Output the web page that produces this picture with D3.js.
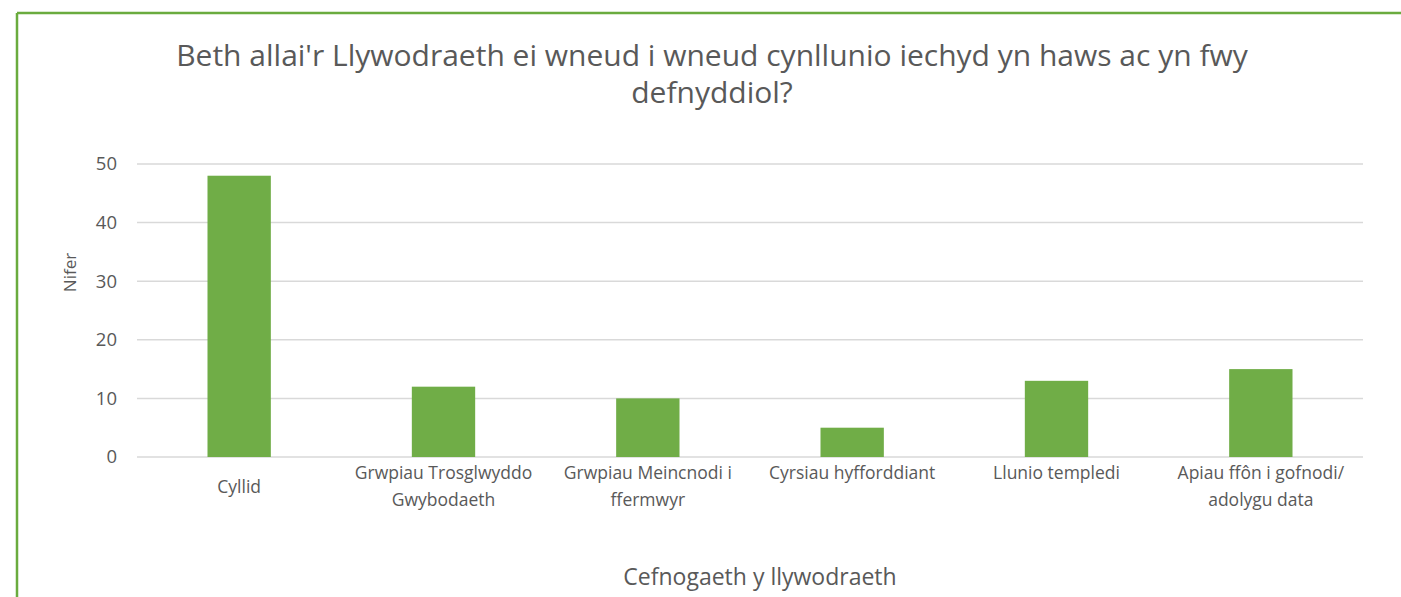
<!DOCTYPE html>
<html>
<head>
<meta charset="utf-8">
<script src="https://cdn.jsdelivr.net/npm/d3@7"></script>
<style>
  body { margin: 0; background: #fff; }
</style>
</head>
<body>
<script>

// data
let categories = [
    'Cyllid',
    'Grwpiau Trosglwyddo Gwybodaeth',
    'Grwpiau Meincnodi i ffermwyr',
    'Cyrsiau hyfforddiant',
    'Llunio templedi',
    'Apiau ffôn i gofnodi/ adolygu data'
];
let values = [48, 12, 10, 5, 13, 15];
let yTicks = [0, 10, 20, 30, 40, 50];
let titleLines = [
    "Beth allai'r Llywodraeth ei wneud i wneud cynllunio iechyd yn haws ac yn fwy",
    'defnyddiol?'
];
let xTitle = 'Cefnogaeth y llywodraeth';
let yTitle = 'Nifer';


// dimensions
let W = 1401, H = 597;
let margin = {top: 164, right: 38, bottom: 140, left: 137},
    width = W - margin.left - margin.right,
    height = H - margin.top - margin.bottom;

let font = "'Open Sans', 'Noto Sans', sans-serif";
let textColor = '#595959';
let green = '#70ad47';

let svg = d3.select('body').append('svg')
    .attr('width', W)
    .attr('height', H);

// chart border (only top and left visible)
svg.append('line')
    .attr('x1', 17).attr('y1', 13).attr('x2', W).attr('y2', 13)
    .attr('stroke', '#6aab3e').attr('stroke-width', 2.5);
svg.append('line')
    .attr('x1', 17).attr('y1', 13).attr('x2', 17).attr('y2', H)
    .attr('stroke', '#6aab3e').attr('stroke-width', 2.5);

let g = svg.append('g')
    .attr('transform', `translate(${margin.left},${margin.top})`);

//scales
let x = d3.scaleBand()
    .domain(categories)
    .range([0, width])
    .paddingInner(0.69)
    .paddingOuter(0.345);

let y = d3.scaleLinear()
    .domain([0, 50])
    .range([height, 0]);

// gridlines
g.selectAll('line.grid')
    .data(yTicks)
    .enter().append('line')
    .attr('class', 'grid')
    .attr('x1', 0)
    .attr('x2', width)
    .attr('y1', d => y(d))
    .attr('y2', d => y(d))
    .attr('stroke', '#d9d9d9')
    .attr('stroke-width', 1.5);

// y axis labels
let yAxis = g.append('g')
    .call(d3.axisLeft(y).tickValues(yTicks).tickSize(0).tickPadding(20));
yAxis.select('.domain').remove();
yAxis.selectAll('text')
    .attr('font-family', font)
    .attr('font-size', '18.5px')
    .attr('fill', textColor);

// bars
g.selectAll('rect.bar')
    .data(values)
    .enter().append('rect')
    .attr('class', 'bar')
    .attr('x', (d, i) => x(categories[i]))
    .attr('y', d => y(d))
    .attr('width', x.bandwidth())
    .attr('height', d => height - y(d))
    .attr('fill', green);

// x axis labels (wrapped)
let xAxis = g.append('g')
    .attr('transform', `translate(0,${height})`)
    .call(d3.axisBottom(x).tickSize(0).tickPadding(10));
xAxis.select('.domain').remove();
xAxis.selectAll('text')
    .attr('font-family', font)
    .attr('font-size', '17.5px')
    .attr('fill', textColor)
    .call(wrap, x.step() - 8);

// the first label sits half a line lower in the original
xAxis.selectAll('.tick').filter((d, i) => i === 0)
    .attr('transform', function() { return d3.select(this).attr('transform') + ' translate(0,14)'; });

function wrap(texts, maxWidth) {
    texts.each(function() {
        let text = d3.select(this);
        let words = text.text().split(/\s+/);
        let yPos = text.attr('y');
        let dy = parseFloat(text.attr('dy'));
        text.text(null);
        let line = [];
        let lineNo = 0;
        let tspan = text.append('tspan').attr('x', 0).attr('y', yPos).attr('dy', dy + 'em');
        words.forEach(word => {
            line.push(word);
            tspan.text(line.join(' '));
            if (tspan.node().getComputedTextLength() > maxWidth && line.length > 1) {
                line.pop();
                tspan.text(line.join(' '));
                line = [word];
                lineNo++;
                tspan = text.append('tspan').attr('x', 0).attr('y', yPos)
                    .attr('dy', (dy + lineNo * 1.5) + 'em').text(word);
            }
        });
    });
}

// title
svg.append('text')
    .attr('x', 712)
    .attr('y', 66)
    .attr('text-anchor', 'middle')
    .attr('font-family', font)
    .attr('font-size', '30px')
    .attr('fill', textColor)
    .selectAll('tspan')
    .data(titleLines)
    .enter().append('tspan')
    .attr('x', 712)
    .attr('dy', (d, i) => i === 0 ? 0 : 37)
    .text(d => d);

// axis titles
svg.append('text')
    .attr('x', 760)
    .attr('y', 585)
    .attr('text-anchor', 'middle')
    .attr('font-family', font)
    .attr('font-size', '23px')
    .attr('fill', textColor)
    .text(xTitle);

svg.append('text')
    .attr('transform', `translate(76,${margin.top + height / 2 - 38}) rotate(-90)`)
    .attr('text-anchor', 'middle')
    .attr('font-family', font)
    .attr('font-size', '17px')
    .attr('fill', textColor)
    .text(yTitle);

</script>
</body>
</html>
